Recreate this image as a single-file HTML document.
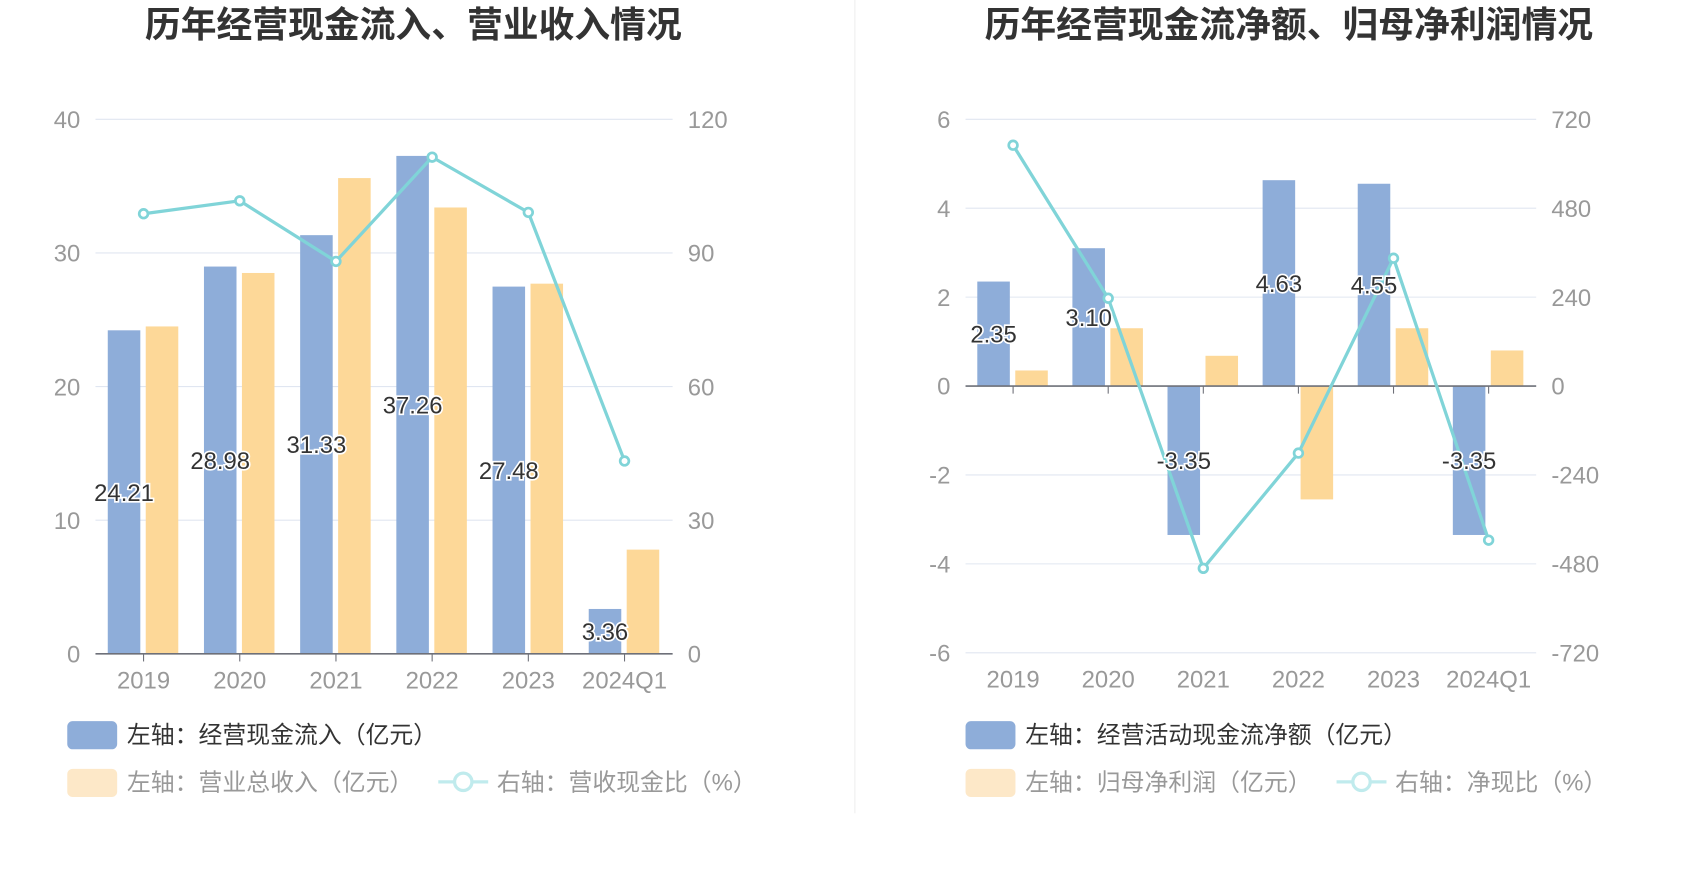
<!DOCTYPE html>
<html><head><meta charset="utf-8"><style>
html,body{margin:0;padding:0;background:#fff;}
svg{display:block;font-family:"Liberation Sans","Noto Sans CJK SC",sans-serif;}
</style></head><body>
<svg id="s" width="1700" height="874" viewBox="0 0 1567 806" preserveAspectRatio="none" xmlns="http://www.w3.org/2000/svg">
<line x1="788" y1="0" x2="788" y2="750" stroke="#eeeeee" stroke-width="1"/>
<text x="381" y="34" text-anchor="middle" font-size="33" font-weight="bold" fill="#333">历年经营现金流入、营业收入情况</text>
<text x="1188" y="34" text-anchor="middle" font-size="33" font-weight="bold" fill="#333">历年经营现金流净额、归母净利润情况</text>
<g id="left"></g>
<g id="right"></g>
<g>
<rect x="62" y="665" width="46" height="26" rx="5" fill="#8eadd9"/>
<text x="117" y="685" font-size="22" fill="#333">左轴：经营现金流入（亿元）</text>
<rect x="62" y="709" width="46" height="26" rx="5" fill="#fde8c8"/>
<text x="117" y="729" font-size="22" fill="#999">左轴：营业总收入（亿元）</text>
<line x1="404" y1="721" x2="450" y2="721" stroke="#c0ebed" stroke-width="3"/>
<circle cx="427" cy="721" r="8" fill="#fff" stroke="#c0ebed" stroke-width="3"/>
<text x="458" y="729" font-size="22" fill="#999">右轴：营收现金比（%）</text>
</g>
<g>
<rect x="890" y="665" width="46" height="26" rx="5" fill="#8eadd9"/>
<text x="945" y="685" font-size="22" fill="#333">左轴：经营活动现金流净额（亿元）</text>
<rect x="890" y="709" width="46" height="26" rx="5" fill="#fde8c8"/>
<text x="945" y="729" font-size="22" fill="#999">左轴：归母净利润（亿元）</text>
<line x1="1232" y1="721" x2="1278" y2="721" stroke="#c0ebed" stroke-width="3"/>
<circle cx="1255" cy="721" r="8" fill="#fff" stroke="#c0ebed" stroke-width="3"/>
<text x="1286" y="729" font-size="22" fill="#999">右轴：净现比（%）</text>
</g>
</svg>
<script>
const categories = ["2019","2020","2021","2022","2023","2024Q1"];
const cashInflow = [24.21,28.98,31.33,37.26,27.48,3.36];
const revenue = [24.5,28.5,35.6,33.4,27.7,7.8];
const cashRatio = [98.8,101.7,88.1,111.5,99.1,43.3];
const leftTicksL = [0,10,20,30,40];
const leftTicksR = [0,30,60,90,120];
const netCash = [2.35,3.10,-3.35,4.63,4.55,-3.35];
const netProfit = [0.35,1.3,0.68,-2.55,1.3,0.8];
const netRatio = [650,237,-492,-181,345,-416];
const rightTicksL = [-6,-4,-2,0,2,4,6];
const rightTicksR = [-720,-480,-240,0,240,480,720];
const NS="http://www.w3.org/2000/svg";
function mk(parent,tag,attrs){const e=document.createElementNS(NS,tag);for(const k in attrs)e.setAttribute(k,attrs[k]);parent.appendChild(e);return e;}
function draw(g,o){
  const yL=v=>o.top+(o.lmax-v)/(o.lmax-o.lmin)*(o.bot-o.top);
  const yR=v=>o.top+(o.rmax-v)/(o.rmax-o.rmin)*(o.bot-o.top);
  const bw=(o.x1-o.x0)/categories.length;
  const cx=i=>o.x0+bw*(i+0.5);
  o.tl.forEach((t,i)=>{
    const y=yL(t);
    const gl=mk(g,'line',{x1:o.x0,x2:o.x1,y1:y,y2:y,stroke:'#e0e6f1','stroke-width':1});
    
    
    const a=mk(g,'text',{x:o.x0-14,y:y+8,'text-anchor':'end','font-size':22,fill:'#999'});a.textContent=t;
    
    
    const b=mk(g,'text',{x:o.x1+14,y:y+8,'font-size':22,fill:'#999'});b.textContent=o.tr[i];
    
    
  });
  const y0=yL(0);
  categories.forEach((c,i)=>{
    const x=cx(i);
    const r1=mk(g,'rect',{x:x-33,width:30,y:Math.min(yL(o.a[i]),y0),height:Math.abs(yL(o.a[i])-y0),fill:'#8eadd9'});
    
    
    const r2=mk(g,'rect',{x:x+2,width:30,y:Math.min(yL(o.b[i]),y0),height:Math.abs(yL(o.b[i])-y0),fill:'#fdd898'});
    
    
    const xl=mk(g,'text',{x:x,y:o.bot+32,'text-anchor':'middle','font-size':22,fill:'#999'});xl.textContent=c;
    
    
    mk(g,'line',{x1:x,x2:x,y1:y0,y2:y0+7,stroke:'#6e7079','stroke-width':1});
  });
  mk(g,'line',{x1:o.x0,x2:o.x1,y1:y0,y2:y0,stroke:'#6e7079','stroke-width':1.5});
  const pts=o.l.map((v,i)=>cx(i)+','+yR(v)).join(' ');
  const pl=mk(g,'polyline',{points:pts,fill:'none',stroke:'#80d4d8','stroke-width':3});
  
  
  o.l.forEach((v,i)=>{
    const p=mk(g,'circle',{cx:cx(i),cy:yR(v),r:4,fill:'#fff',stroke:'#80d4d8','stroke-width':2.5});
    
    
  });
  categories.forEach((c,i)=>{
    const v=o.a[i];
    const t=mk(g,'text',{x:cx(i)-18,y:(yL(v)+y0)/2+8,'text-anchor':'middle','font-size':22,fill:'#333',stroke:'#fff','stroke-width':3,'paint-order':'stroke'});
    t.textContent=v.toFixed(2);
    
    
  });
}
draw(document.getElementById('left'),{x0:88,x1:620,top:110,bot:603,lmin:0,lmax:40,rmin:0,rmax:120,tl:leftTicksL,tr:leftTicksR,a:cashInflow,b:revenue,l:cashRatio});
draw(document.getElementById('right'),{x0:890,x1:1416,top:110,bot:602,lmin:-6,lmax:6,rmin:-720,rmax:720,tl:rightTicksL,tr:rightTicksR,a:netCash,b:netProfit,l:netRatio});
</script>
</body></html>
